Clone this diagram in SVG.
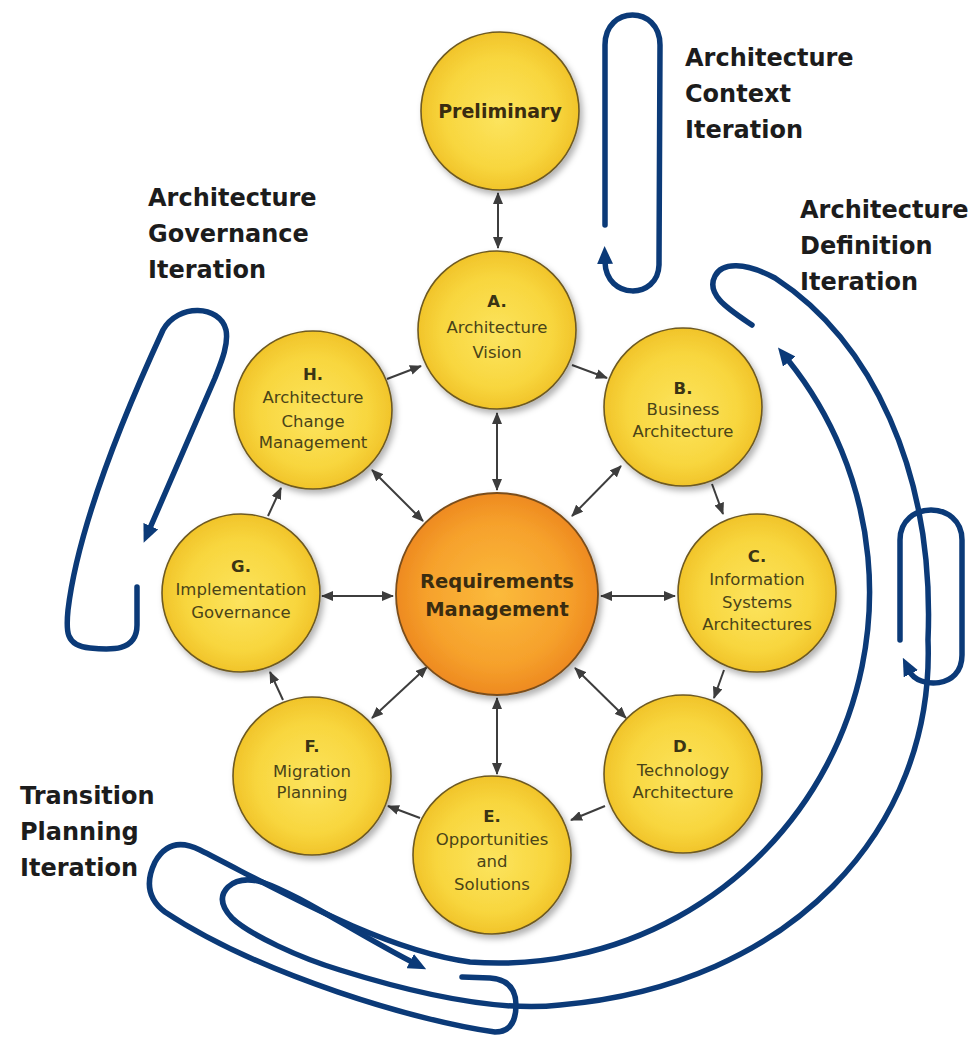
<svg xmlns="http://www.w3.org/2000/svg" width="975" height="1040" viewBox="0 0 975 1040">
<defs>
<style>
.yc{fill:url(#yel);stroke:#6e5a22;stroke-width:1.6;filter:url(#sh)}
.rc{fill:url(#org);stroke:#7a4e1c;stroke-width:1.8;filter:url(#sh)}
.lbl{font-family:"DejaVu Sans",sans-serif;font-size:16.5px;fill:#4a4418;text-anchor:middle}
.lb{font-weight:bold;fill:#3a3414}
.big{font-family:"DejaVu Sans",sans-serif;font-weight:bold;font-size:19.5px;fill:#3a2c10;text-anchor:middle}
.ttl{font-family:"DejaVu Sans",sans-serif;font-weight:bold;font-size:24px;fill:#1c1c1c}
.loop{fill:none;stroke:#0b3a78;stroke-width:5.5;stroke-linecap:round;stroke-linejoin:round}
.con{fill:none;stroke:#3d3d3d;stroke-width:2}
</style>
<radialGradient id="yel" cx="50%" cy="50%" r="50%" fx="50%" fy="55%">
<stop offset="0" stop-color="#fce45e"/>
<stop offset="0.7" stop-color="#f8d63e"/>
<stop offset="1" stop-color="#f1c42a"/>
</radialGradient>
<radialGradient id="org" cx="50%" cy="50%" r="50%" fx="50%" fy="50%">
<stop offset="0" stop-color="#fbbb3c"/>
<stop offset="0.7" stop-color="#f6a12c"/>
<stop offset="1" stop-color="#ee8a20"/>
</radialGradient>
<filter id="sh" x="-20%" y="-20%" width="150%" height="150%">
<feDropShadow dx="3" dy="4" stdDeviation="3" flood-color="#000" flood-opacity="0.3"/>
</filter>
<marker id="ga" viewBox="0 0 12 10" refX="11" refY="5" markerWidth="12" markerHeight="10" markerUnits="userSpaceOnUse" orient="auto-start-reverse">
<path d="M0,0 L12,5 L0,10 z" fill="#3d3d3d"/>
</marker>
<marker id="ba" viewBox="0 0 18 16" refX="2" refY="8" markerWidth="18" markerHeight="16" markerUnits="userSpaceOnUse" orient="auto">
<path d="M0,0 L18,8 L0,16 z" fill="#0b3a78"/>
</marker>
</defs>
<rect width="975" height="1040" fill="#ffffff"/>

<g id="iteration-loops">
<path id="context-loop" class="loop" marker-end="url(#ba)" d="M605,225 L605,45 C605,5 660,5 660,45 L659,265 C658,300 606,300 605,262"/>
<path id="governance-loop" class="loop" marker-end="url(#ba)" d="M137,587 L137,625 C137,652 110,650 90,648 C65,646 66,630 68,610 Q80,510 163,330 C178,303 220,305 226,330 C229,345 220,365 215,378 L150,528"/>
<path id="definition-small-loop" class="loop" marker-end="url(#ba)" d="M900,640 L900,540 C900,500 962,500 962,540 L962,655 C962,690 918,688 910,672"/>
<path id="transition-outer-definition-inner" class="loop" marker-end="url(#ba)" d="M462,977 L490,978 Q516,980 516,1005 Q516,1032 495,1032 C420,1022 260,975 165,912 Q140,893 155,862 Q170,835 200,850 C270,885 380,950 470,962 A371,371 0 0 0 788,360"/>
<path id="definition-outer-transition-inner" class="loop" marker-end="url(#ba)" d="M752,325 C730,310 705,295 715,276 C722,262 745,262 775,278 C870,340 935,470 928,640 C935,830 790,985 560,1005 C500,1012 420,995 340,970 C300,958 250,935 232,918 Q215,900 228,887 Q240,876 262,882 C300,895 350,930 412,962"/>
</g>

<g id="connectors">
<line class="con" x1="498" y1="193" x2="498" y2="248" marker-start="url(#ga)" marker-end="url(#ga)"/>
<line class="con" x1="572" y1="365" x2="607" y2="378" marker-end="url(#ga)"/>
<line class="con" x1="712" y1="484" x2="723" y2="514" marker-end="url(#ga)"/>
<line class="con" x1="724" y1="670" x2="714" y2="698" marker-end="url(#ga)"/>
<line class="con" x1="605" y1="806" x2="571" y2="820" marker-end="url(#ga)"/>
<line class="con" x1="420" y1="818" x2="388" y2="806" marker-end="url(#ga)"/>
<line class="con" x1="283" y1="700" x2="270" y2="672" marker-end="url(#ga)"/>
<line class="con" x1="268" y1="516" x2="281" y2="488" marker-end="url(#ga)"/>
<line class="con" x1="387" y1="379" x2="421" y2="366" marker-end="url(#ga)"/>
<line class="con" x1="497" y1="413" x2="497" y2="490" marker-start="url(#ga)" marker-end="url(#ga)"/>
<line class="con" x1="621" y1="466" x2="572" y2="516" marker-start="url(#ga)" marker-end="url(#ga)"/>
<line class="con" x1="601" y1="596" x2="675" y2="596" marker-start="url(#ga)" marker-end="url(#ga)"/>
<line class="con" x1="626" y1="718" x2="575" y2="668" marker-start="url(#ga)" marker-end="url(#ga)"/>
<line class="con" x1="497" y1="698" x2="497" y2="774" marker-start="url(#ga)" marker-end="url(#ga)"/>
<line class="con" x1="372" y1="718" x2="427" y2="667" marker-start="url(#ga)" marker-end="url(#ga)"/>
<line class="con" x1="322" y1="596" x2="393" y2="596" marker-start="url(#ga)" marker-end="url(#ga)"/>
<line class="con" x1="372" y1="470" x2="423" y2="521" marker-start="url(#ga)" marker-end="url(#ga)"/>
</g>

<g id="node-preliminary">
<circle class="yc" cx="500" cy="111" r="79"/>
<text class="big" x="500" y="118" style="font-size:19px">Preliminary</text>
</g>
<g id="node-a">
<circle class="yc" cx="497" cy="330" r="79"/>
<text class="lbl"><tspan class="lb" x="497" y="307">A.</tspan><tspan x="497" y="333">Architecture</tspan><tspan x="497" y="358">Vision</tspan></text>
</g>
<g id="node-b">
<circle class="yc" cx="683" cy="407" r="79"/>
<text class="lbl"><tspan class="lb" x="683" y="394">B.</tspan><tspan x="683" y="415">Business</tspan><tspan x="683" y="437">Architecture</tspan></text>
</g>
<g id="node-c">
<circle class="yc" cx="757" cy="593" r="79"/>
<text class="lbl"><tspan class="lb" x="757" y="562">C.</tspan><tspan x="757" y="585">Information</tspan><tspan x="757" y="608">Systems</tspan><tspan x="757" y="630">Architectures</tspan></text>
</g>
<g id="node-d">
<circle class="yc" cx="683" cy="774" r="79"/>
<text class="lbl"><tspan class="lb" x="683" y="752">D.</tspan><tspan x="683" y="776">Technology</tspan><tspan x="683" y="798">Architecture</tspan></text>
</g>
<g id="node-e">
<circle class="yc" cx="492" cy="855" r="79"/>
<text class="lbl"><tspan class="lb" x="492" y="822">E.</tspan><tspan x="492" y="845">Opportunities</tspan><tspan x="492" y="867">and</tspan><tspan x="492" y="890">Solutions</tspan></text>
</g>
<g id="node-f">
<circle class="yc" cx="312" cy="776" r="79"/>
<text class="lbl"><tspan class="lb" x="312" y="752">F.</tspan><tspan x="312" y="777">Migration</tspan><tspan x="312" y="798">Planning</tspan></text>
</g>
<g id="node-g">
<circle class="yc" cx="241" cy="593" r="79"/>
<text class="lbl"><tspan class="lb" x="241" y="572">G.</tspan><tspan x="241" y="595">Implementation</tspan><tspan x="241" y="618">Governance</tspan></text>
</g>
<g id="node-h">
<circle class="yc" cx="313" cy="410" r="79"/>
<text class="lbl"><tspan class="lb" x="313" y="380">H.</tspan><tspan x="313" y="403">Architecture</tspan><tspan x="313" y="427">Change</tspan><tspan x="313" y="448">Management</tspan></text>
</g>
<g id="node-rm">
<circle class="rc" cx="497" cy="594" r="101"/>
<text class="big"><tspan x="497" y="588">Requirements</tspan><tspan x="497" y="616">Management</tspan></text>
</g>

<g id="labels">
<text class="ttl"><tspan x="685" y="66">Architecture</tspan><tspan x="685" y="102">Context</tspan><tspan x="685" y="138">Iteration</tspan></text>
<text class="ttl"><tspan x="148" y="206">Architecture</tspan><tspan x="148" y="242">Governance</tspan><tspan x="148" y="278">Iteration</tspan></text>
<text class="ttl"><tspan x="800" y="218">Architecture</tspan><tspan x="800" y="254">Definition</tspan><tspan x="800" y="290">Iteration</tspan></text>
<text class="ttl"><tspan x="20" y="804">Transition</tspan><tspan x="20" y="840">Planning</tspan><tspan x="20" y="876">Iteration</tspan></text>
</g>
</svg>
